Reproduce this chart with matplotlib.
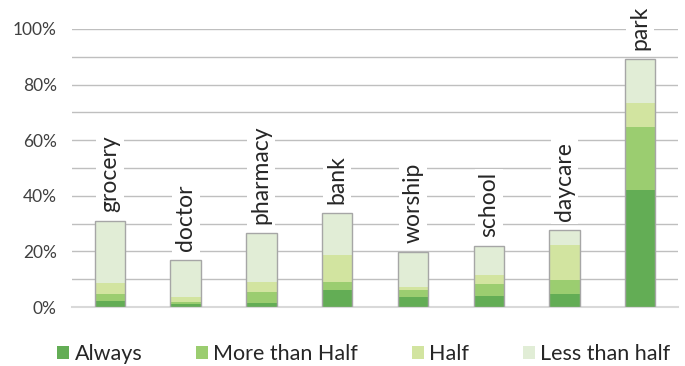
import matplotlib
matplotlib.use("Agg")
import matplotlib.pyplot as plt
from matplotlib.patches import Patch
import numpy as np

plt.rcParams['font.family'] = ['Lato', 'DejaVu Sans']

places = ["grocery", "doctor", "pharmacy", "bank", "worship", "school", "daycare", "park"]
always = [2.3, 1.2, 1.5, 6.1, 3.6, 4.0, 4.8, 42.1]
more_than_half = [2.5, 0.7, 3.9, 2.9, 2.5, 4.3, 4.9, 22.6]
half = [3.7, 1.7, 3.6, 9.7, 1.1, 3.1, 12.6, 8.7]
less_than_half = [22.5, 13.3, 17.5, 15.0, 12.5, 10.5, 5.5, 15.7]

series = [
    ("Always", always, "#63ad55"),
    ("More than Half", more_than_half, "#9bcd70"),
    ("Half", half, "#d2e4a0"),
    ("Less than half", less_than_half, "#e1edd6"),
]

fig = plt.figure(figsize=(6.85, 3.66), dpi=100)
ax = fig.add_axes([0.105, 0.161, 0.885, 0.76])

x = np.arange(len(places))
bottom = np.zeros(len(places))
for name, vals, color in series:
    ax.bar(x, vals, width=0.4, bottom=bottom, color=color, edgecolor="none", zorder=3)
    bottom += np.array(vals)

# outline around each full stack
ax.bar(x, bottom, width=0.4, facecolor="none", edgecolor="#a6a6a6", linewidth=1.0, zorder=4)

for xi, total, name in zip(x, bottom, places):
    ax.text(xi, total + 3.2, name, rotation=90, ha="center", va="bottom",
            fontsize=16.5, color="#262626", zorder=5,
            bbox=dict(facecolor="white", edgecolor="none", pad=2.5))

ax.set_xlim(-0.5, len(places) - 0.5)
ax.set_ylim(0, 100)
ax.set_yticks(np.arange(0, 101, 20))
ax.set_yticks(np.arange(0, 101, 10), minor=True)
ax.set_yticklabels([f"{v}%" for v in range(0, 101, 20)], fontsize=12.5, color="#404040")
ax.tick_params(axis="y", which="both", length=0, pad=11)
ax.set_xticks([])
ax.grid(axis="y", which="both", color="#bfbfbf", linewidth=1.0, zorder=0)
for s in ["top", "right", "left"]:
    ax.spines[s].set_visible(False)
ax.spines["bottom"].set_color("#d9d9d9")
ax.spines["bottom"].set_linewidth(1.5)
ax.spines["bottom"].set_zorder(2)

handles = [Patch(facecolor=c, edgecolor="none", label=n) for n, _, c in series]
fig.legend(handles=handles, loc="center", bbox_to_anchor=(0.531, 0.032), ncol=4,
           frameon=False, fontsize=15.5, handlelength=0.55, handleheight=0.55,
           handletextpad=0.25, columnspacing=2.5, labelcolor="#262626",
           borderaxespad=0, borderpad=0)

fig.savefig("out.png", dpi=100)
